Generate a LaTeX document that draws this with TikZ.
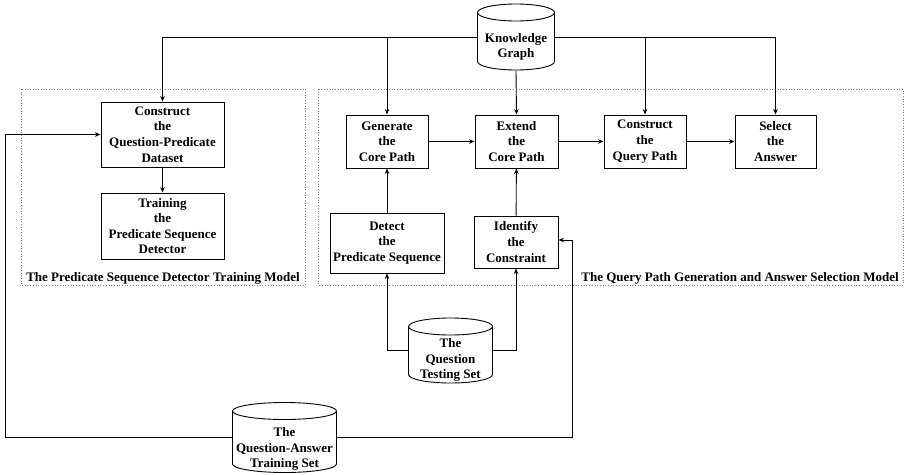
\documentclass[tikz,border=0pt]{standalone}
\usepackage{fontspec}
\setmainfont{Liberation Serif}
\usetikzlibrary{calc,arrows.meta}
\tikzset{
  txt/.style={font=\bfseries\fontsize{13}{15.6}\selectfont, align=center},
  proc/.style={txt, draw, line width=1pt, inner sep=2pt},
  % cylinder drawn inside the node box
  store/.style={inner sep=0pt, path picture={
      \draw[line width=0.9pt] let \p1=(path picture bounding box.south west),
        \p2=(path picture bounding box.north east), \n1={(\x2-\x1)/2-0.5pt} in
        (\x1+0.5pt,\y2-9pt) -- (\x1+0.5pt,\y1+9pt)
        arc[start angle=180, end angle=360, x radius=\n1*1pt, y radius=8.5pt]
        -- (\x2-0.5pt,\y2-9pt)
        arc[start angle=0, end angle=360, x radius=\n1*1pt, y radius=8.5pt];
    }},
  flow/.style={line width=0.9pt, -{Stealth[length=5.5pt,width=4.5pt]}},
  model/.style={draw=gray, dotted, line width=0.7pt},
}
\begin{document}
\begin{tikzpicture}[x=1pt, y=-1pt]
	\useasboundingbox (0,0) rectangle (904,474);
	% the two models
	\draw[model] (21,89) rectangle (305,285);
	\draw[model] (318,89) rectangle (903,285);
	\node[txt, anchor=south east, inner sep=2pt] (lname) at (302,287) {The Predicate Sequence Detector Training Model};
	\node[txt, anchor=south east, inner sep=2pt] (rname) at (901,287) {The Query Path Generation and Answer Selection Model};
	% data
	\node[store, minimum width=78pt, minimum height=67pt] (kg) at (516,37) {};
	\node[txt] (kgt) at (516,47) {Knowledge\\Graph};
	\node[store, minimum width=85pt, minimum height=66pt] (qts) at (450.5,350.5) {};
	\node[txt] (qtst) at (450.5,360) {The\\Question\\Testing Set};
	\node[store, minimum width=105pt, minimum height=71pt] (qat) at (284.5,437.5) {};
	\node[txt] (qatt) at (284.5,449) {The\\Question-Answer\\Training Set};
	% steps
	\node[proc, minimum width=123pt, minimum height=65pt] (cqd) at (162.5,134.5) {Construct\\the\\Question-Predicate\\Dataset};
	\node[proc, minimum width=123pt, minimum height=66pt] (trn) at (162.5,226) {Training\\the\\Predicate Sequence\\Detector};
	\node[proc, minimum width=82pt, minimum height=53pt] (gen) at (387,141.5) {Generate\\the\\Core Path};
	\node[proc, minimum width=83pt, minimum height=53pt] (ext) at (516.5,141.5) {Extend\\the\\Core Path};
	\node[proc, minimum width=82pt, minimum height=53pt] (cqp) at (645,141.5) {Construct\\the\\Query Path};
	\node[proc, minimum width=81pt, minimum height=53pt] (sel) at (775.5,141.5) {Select\\the\\Answer};
	\node[proc, minimum width=114pt, minimum height=60pt] (det) at (387,243) {Detect\\the\\Predicate Sequence};
	\node[proc, minimum width=84pt, minimum height=52pt] (idc) at (516,242) {Identify\\the\\Constraint};
	\coordinate (lft) at (5,435);
	\coordinate (rgt) at (572,435);
	% connectors
	\draw[flow] (kg.west) -| (cqd.north);
	\draw[flow] (kg.west) -| (gen.north);
	\draw[flow] (kg.east) -| (cqp.north);
	\draw[flow] (kg.east) -| (sel.north);
	\draw[flow] (kg.south) -- (ext.north);
	\draw[flow] (cqd) -- (trn);
	\draw[flow] (gen) -- (ext);
	\draw[flow] (ext) -- (cqp);
	\draw[flow] (cqp) -- (sel);
	\draw[flow] (det) -- (gen);
	\draw[flow] (idc) -- (ext);
	\draw[flow] (qts.west) -| (det.south);
	\draw[flow] (qts.east) -| (idc.south);
	\draw[flow] (qat.west) -- (qat.west -| lft) |- (cqd.west);
	\draw[flow] (qat.east) -- (qat.east -| rgt) |- ([yshift=2pt]idc.east);
\end{tikzpicture}
\end{document}
